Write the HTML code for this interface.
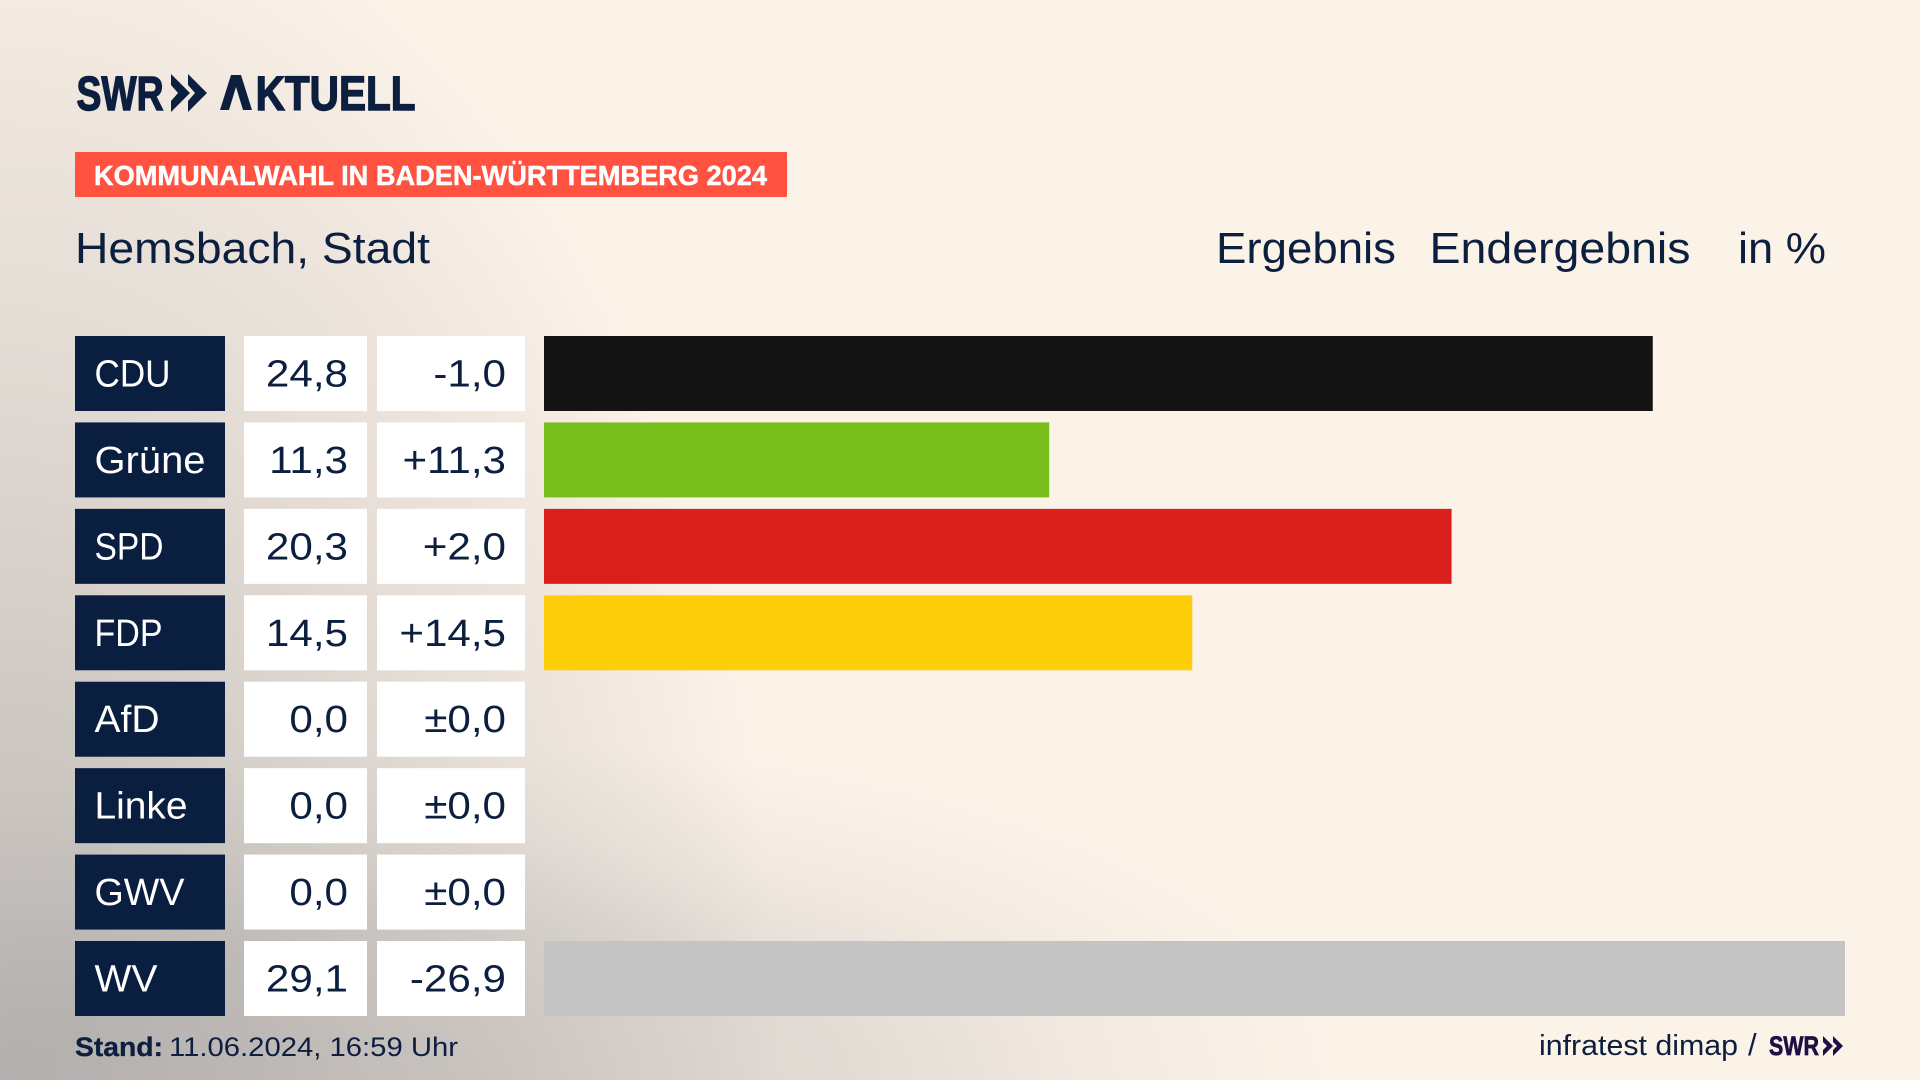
<!DOCTYPE html>
<html lang="de">
<head>
<meta charset="utf-8">
<title>Kommunalwahl Hemsbach</title>
<style>
html,body{margin:0;padding:0;width:1920px;height:1080px;overflow:hidden;background:#FBF2E8}
#bg{position:absolute;left:0;top:0;width:1920px;height:1080px;
background:
radial-gradient(ellipse 880px 340px at 450px 1080px,rgba(120,120,125,.26) 0,rgba(120,120,125,.19) 45%,rgba(120,120,125,.08) 70%,rgba(120,120,125,.01) 95%,rgba(120,120,125,0) 100%),
radial-gradient(ellipse 780px 1230px at 0 1080px,rgba(120,120,125,.46) 0,rgba(120,120,125,.33) 32%,rgba(120,120,125,.24) 48%,rgba(120,120,125,.16) 65%,rgba(120,120,125,.05) 90%,rgba(120,120,125,0) 100%),
#FBF2E8}
svg{position:absolute;left:0;top:0}
text{font-family:"Liberation Sans",sans-serif;fill:#0C1F3F}
</style>
</head>
<body>
<div id="bg"></div>
<svg id="chart" width="1920" height="1080" viewBox="0 0 1920 1080">
  <g>
    <text x="76.5" y="110" font-size="48" font-weight="700" stroke="#0C1F3F" stroke-width="1.4" textLength="87" lengthAdjust="spacingAndGlyphs">SWR</text>
    <polygon points="171,74 190,93 171,112 171,101 178,93 171,85" fill="#0C1F3F"/>
    <polygon points="188,74 207,93 188,112 188,101 195,93 188,85" fill="#0C1F3F"/>
    <polygon points="220,110 231,75 241,75 252,110 243,110 236,87 229,110" fill="#0C1F3F"/>
    <text transform="translate(220,110) scale(.845,1)" font-size="48" font-weight="700" stroke="#0C1F3F" stroke-width="1.4"><tspan style="fill:transparent;stroke:none">A</tspan><tspan dx="7.5">KTUELL</tspan></text>
  </g>
  <rect x="75" y="152" width="712" height="45" fill="#FF5240"/>
  <text x="94" y="185" font-size="28" font-weight="700" style="fill:#fff" stroke="#fff" stroke-width="0.5" textLength="673" lengthAdjust="spacingAndGlyphs">KOMMUNALWAHL IN BADEN-WÜRTTEMBERG 2024</text>
  <text x="75" y="263" font-size="44" textLength="355" lengthAdjust="spacingAndGlyphs">Hemsbach, Stadt</text>
  <text x="1216" y="263" font-size="44" textLength="180" lengthAdjust="spacingAndGlyphs">Ergebnis</text>
  <text x="1429.5" y="263" font-size="44" textLength="261" lengthAdjust="spacingAndGlyphs">Endergebnis</text>
  <text x="1738" y="263" font-size="44" textLength="88" lengthAdjust="spacingAndGlyphs">in %</text>
  <g id="rows"></g>
  <text x="75" y="1056" font-size="27" font-weight="700" stroke="#0C1F3F" stroke-width="0.3" textLength="88" lengthAdjust="spacingAndGlyphs">Stand:</text>
  <text x="169" y="1056" font-size="27" textLength="289" lengthAdjust="spacingAndGlyphs">11.06.2024, 16:59 Uhr</text>
  <text x="1539" y="1055" font-size="29" textLength="199" lengthAdjust="spacingAndGlyphs">infratest dimap</text>
  <text x="1748" y="1055" font-size="31">/</text>
  <text x="1769" y="1055" font-size="27" font-weight="700" style="fill:#1E0F45" stroke="#1E0F45" stroke-width="0.7" textLength="50" lengthAdjust="spacingAndGlyphs">SWR</text>
  <polygon points="1823,1036 1833,1046 1823,1056 1823,1050 1827,1046 1823,1042" fill="#1E0F45"/>
  <polygon points="1833,1036 1843,1046 1833,1056 1833,1050 1837,1046 1833,1042" fill="#1E0F45"/>
</svg>
<script>
const categories = ['CDU', 'Grüne', 'SPD', 'FDP', 'AfD', 'Linke', 'GWV', 'WV'];
const results = [24.8, 11.3, 20.3, 14.5, 0.0, 0.0, 0.0, 29.1];
const changes = [-1.0, 11.3, 2.0, 14.5, 0.0, 0.0, 0.0, -26.9];

const partyColor = {CDU:'#141414', 'Grüne':'#78BE1B', SPD:'#D9201C', FDP:'#FFCE0A', AfD:'#00A0E0', Linke:'#BE3075', GWV:'#888888', WV:'#C4C4C4'};
const labelFit = {CDU:76, 'Grüne':111, SPD:69, FDP:68, AfD:65, Linke:93, GWV:90, WV:63};

const NS = 'http://www.w3.org/2000/svg';
const rowsGroup = document.getElementById('rows');
const slug = s => s.toLowerCase().replace('ü', 'ue');

const barLeft = 544, barRight = 1845, domainMax = 29.1;
const rowTop = 336, rowStep = 86.43, rowHeight = 75;
function xScale(v) { return barLeft + v * (barRight - barLeft) / domainMax; }
function yScale(i) { return rowTop + i * rowStep; }
function fmtValue(v) { return v.toFixed(1).replace('.', ','); }
function fmtChange(v) {
  if (v > 0) return '+' + fmtValue(v);
  if (v < 0) return '-' + fmtValue(-v);
  return '±' + fmtValue(0);
}
function makeRect(x, y, w, h, fill) {
  const r = document.createElementNS(NS, 'rect');
  r.setAttribute('x', x);
  r.setAttribute('y', y);
  r.setAttribute('width', w);
  r.setAttribute('height', h);
  r.setAttribute('fill', fill);
  rowsGroup.appendChild(r);
  return r;
}
function makeNumber(str, right, y) {
  const t = document.createElementNS(NS, 'text');
  t.setAttribute('transform', 'translate(' + right + ',' + y + ') scale(1.11,1)');
  t.setAttribute('text-anchor', 'end');
  t.setAttribute('font-size', '38');
  t.textContent = str;
  rowsGroup.appendChild(t);
  return t;
}
categories.forEach(function (name, i) {
  const y = yScale(i);
  const key = slug(name);
  const base = y + 50.5;

  const cell = makeRect(75, y, 150, rowHeight, '#0A1F3F');
  
  

  const label = document.createElementNS(NS, 'text');
  label.setAttribute('x', 94.5);
  label.setAttribute('y', base);
  label.setAttribute('font-size', '38');
  label.setAttribute('style', 'fill:#fff');
  label.setAttribute('textLength', labelFit[name]);
  label.setAttribute('lengthAdjust', 'spacingAndGlyphs');
  label.textContent = name;
  
  
  rowsGroup.appendChild(label);

  const valueBox = makeRect(244, y, 123, rowHeight, '#fff');
  
  

  const changeBox = makeRect(377, y, 148, rowHeight, '#fff');
  
  

  const valueText = makeNumber(fmtValue(results[i]), 348, base);
  
  

  const changeText = makeNumber(fmtChange(changes[i]), 506, base);
  
  

  const bar = makeRect(xScale(0), y, xScale(results[i]) - xScale(0), rowHeight, partyColor[name]);
  
  
});
</script>
</body>
</html>
